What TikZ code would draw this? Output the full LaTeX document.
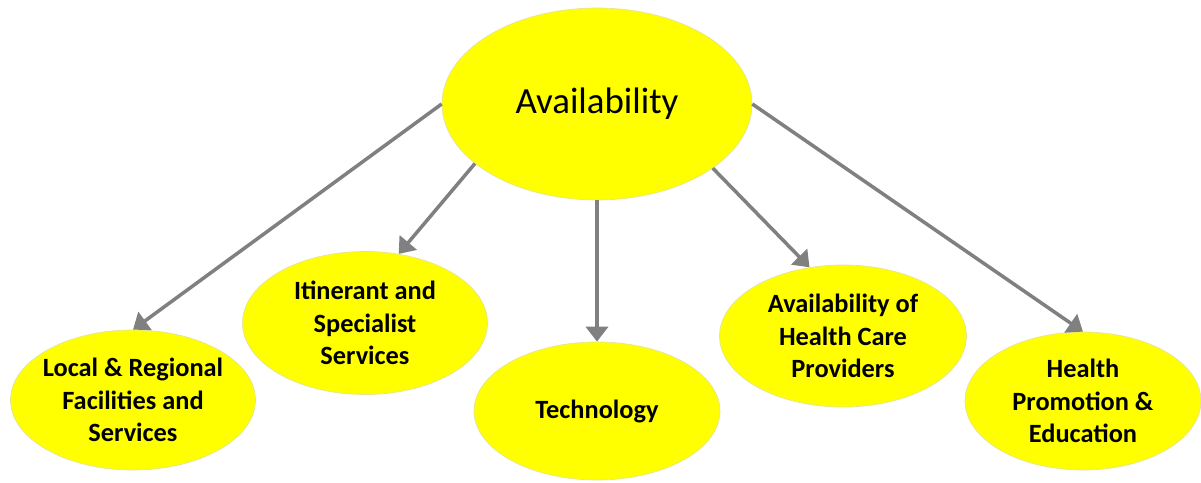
\documentclass[tikz,border=0pt]{standalone}
\usepackage{fontspec}
\setmainfont{Carlito}
\usetikzlibrary{shapes.geometric}
\usetikzlibrary{arrows.meta}
\definecolor{amarillo}{RGB}{255,255,0}
\definecolor{borde}{RGB}{228,228,150}
\definecolor{gris}{RGB}{128,128,128}

\begin{document}
\begin{tikzpicture}[x=0.02cm, y=-0.02cm,
    burbuja/.style={ellipse, fill=amarillo, draw=borde, thin,
      inner xsep=-0.5cm, inner ysep=-0.4cm, minimum width=4.9cm, minimum height=2.8cm,
      align=center, font=\fontsize{15}{18.5}\selectfont\bfseries},
    flecha/.style={-{Triangle[length=8.5pt,width=12.5pt]}, line width=2pt, draw=gris}]
            \useasboundingbox (0,0) rectangle (1201,483);
            % Nodos
            \node[burbuja, minimum width=6.2cm, minimum height=3.84cm, font=\fontsize{21}{25}\selectfont] (avail) at (597,104) {Availability};
            \node[burbuja] (local) at (133,400) {Local \& Regional\\Facilities and\\Services};
            \node[burbuja, minimum height=2.86cm] (itin) at (365,323) {Itinerant and\\Specialist\\Services};
            \node[burbuja, minimum width=4.92cm, minimum height=2.76cm] (tech) at (597,411) {Technology};
            \node[burbuja, minimum width=4.94cm, minimum height=2.84cm] (prov) at (843,336) {Availability of\\Health Care\\Providers};
            \node[burbuja, minimum width=4.72cm, minimum height=2.76cm] (promo) at (1083,401) {Health\\Promotion \&\\Education};

            % Aristas
            \draw[flecha] (avail.180) -- (local.north);
            \draw[flecha] (avail.206) -- (itin.64);
            \draw[flecha] (avail.south) -- (tech.north);
            \draw[flecha] (avail.331) -- (prov.116);
            \draw[flecha] (avail.east) -- (promo.north);
          \end{tikzpicture}
\end{document}
